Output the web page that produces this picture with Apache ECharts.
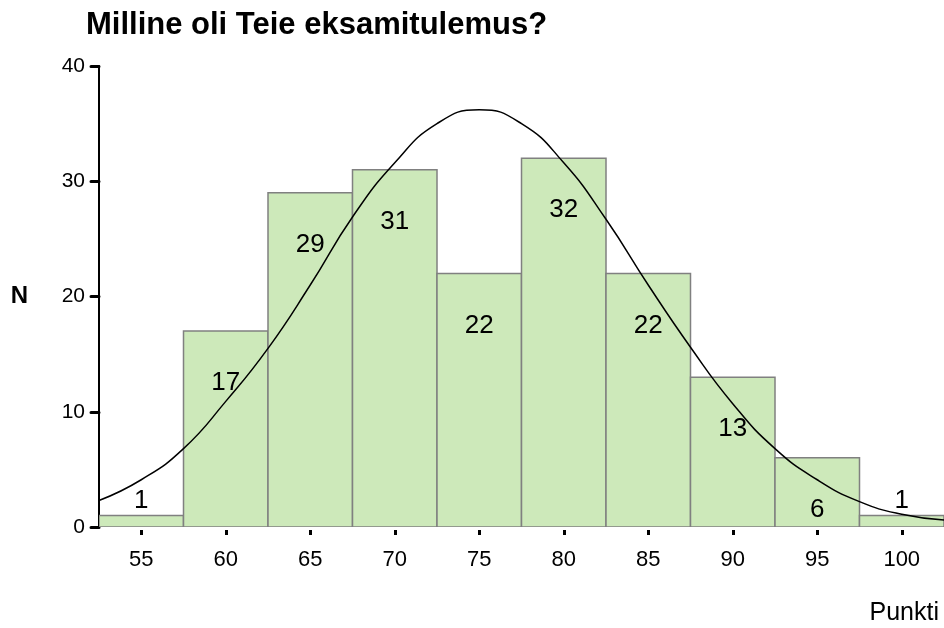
<!DOCTYPE html>
<html>
<head>
  <meta charset="utf-8" />
  <title>Milline oli Teie eksamitulemus?</title>
  <script src="https://cdn.jsdelivr.net/npm/echarts@6/dist/echarts.min.js"></script>
  <style>
    html, body { margin: 0; padding: 0; background: #fff; }
    #main { width: 944px; height: 628px; }
  </style>
</head>
<body>
  <div id="main"></div>
  <script>
    // bin midpoints and counts
    var binMid = [55, 60, 65, 70, 75, 80, 85, 90, 95, 100];
    var counts = [1, 17, 29, 31, 22, 32, 22, 13, 6, 1];
    var binWidth = 5;
    // normal curve
    var curveX = [52.5, 55, 57.5, 60, 62.5, 65, 67.5, 70, 72.5, 75, 77.5, 80, 82.5, 85, 87.5, 90, 92.5, 95, 97.5, 100, 102.5];
    var curveY = [2.3, 4.1, 6.8, 10.9, 15.5, 21.0, 26.9, 31.6, 35.0, 36.2, 35.0, 31.6, 26.7, 21.0, 15.6, 10.7, 6.8, 4.1, 2.2, 1.1, 0.6];
    var yTicks = [0, 10, 20, 30, 40];

    var font = '"Liberation Sans", Arial, sans-serif';

    var binData = binMid.map(function (m, i) {
      return [m - binWidth / 2, m + binWidth / 2, counts[i]];
    });
    var curveData = curveX.map(function (x, i) { return [x, curveY[i]]; });

    var myChart = echarts.init(document.getElementById('main'));
    var option = {
      animation: false,
      title: {
        text: 'Milline oli Teie eksamitulemus?',
        left: 81,
        top: 5,
        textStyle: { fontFamily: font, fontSize: 31, fontWeight: 'bold', color: '#000' }
      },
      grid: { left: 99, top: 66, width: 846, height: 461 },
      xAxis: {
        type: 'value',
        min: 52.5,
        max: 102.5,
        axisLine: { show: false },
        splitLine: { show: false },
        axisTick: {
          show: true,
          customValues: binMid,
          length: 8,
          lineStyle: { color: '#000', width: 3, type: [0, 3, 5, 40] }
        },
        axisLabel: {
          customValues: binMid,
          margin: 22,
          fontFamily: font,
          fontSize: 22,
          color: '#000'
        }
      },
      yAxis: {
        type: 'value',
        min: yTicks[0],
        max: yTicks[yTicks.length - 1],
        interval: 10,
        name: 'N',
        nameLocation: 'middle',
        nameRotate: 0,
        nameGap: 71,
        nameTextStyle: { fontFamily: font, fontSize: 24, fontWeight: 'bold', color: '#000', padding: [0, 0, 8, 0] },
        axisLine: { show: true, lineStyle: { color: '#000', width: 2 } },
        axisTick: { show: true, length: 8, lineStyle: { color: '#000', width: 3, cap: 'round' } },
        splitLine: { show: false },
        axisLabel: { margin: 14, fontFamily: font, fontSize: 21, color: '#000' }
      },
      graphic: [{
        type: 'text',
        right: 5,
        top: 601,
        style: { text: 'Punkti', font: '25px "Liberation Sans", Arial, sans-serif', fill: '#000' }
      }],
      series: [{
        type: 'custom',
        clip: true,
        data: binData,
        renderItem: function (params, api) {
          var p0 = api.coord([api.value(0), 0]);
          var p1 = api.coord([api.value(1), api.value(2)]);
          var h = p0[1] - p1[1];
          var cx = (p0[0] + p1[0]) / 2;
          var ly = h > 60 ? p1[1] + 52 : p1[1] - 15;
          return {
            type: 'group',
            children: [{
              type: 'rect',
              shape: { x: p0[0], y: p1[1], width: p1[0] - p0[0], height: h },
              style: { fill: '#cde9ba', stroke: '#808080', lineWidth: 1.5 }
            }, {
              type: 'text',
              x: cx,
              y: ly,
              style: {
                text: String(api.value(2)),
                font: '26px "Liberation Sans", Arial, sans-serif',
                fill: '#000',
                align: 'center',
                verticalAlign: 'middle'
              }
            }]
          };
        }
      }, {
        type: 'line',
        data: curveData,
        smooth: true,
        symbol: 'none',
        lineStyle: { color: '#000', width: 1.5 },
        z: 5
      }]
    };
    myChart.setOption(option);
  </script>
</body>
</html>
